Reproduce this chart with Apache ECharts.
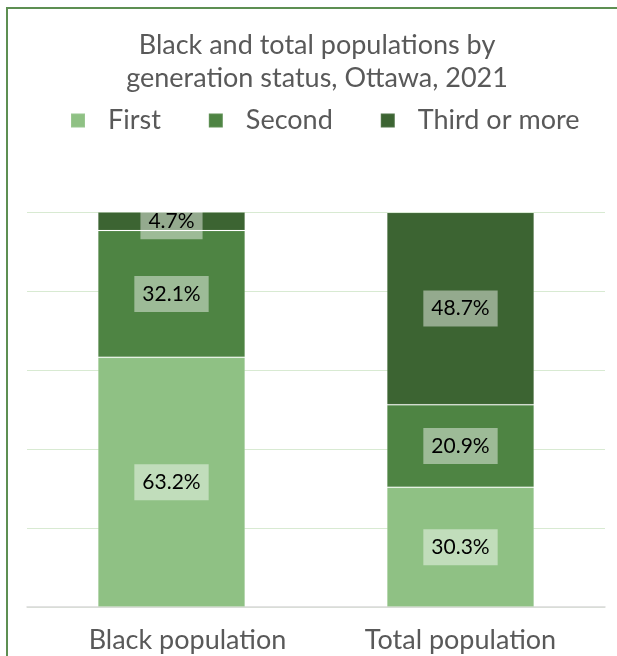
<!DOCTYPE html>
<html>
<head>
<meta charset="utf-8">
<script src="https://cdn.jsdelivr.net/npm/echarts@6/dist/echarts.min.js"></script>
<style>
  html, body { margin: 0; padding: 0; background: #ffffff; overflow: hidden; }
  #chart { width: 617px; height: 656px; }
</style>
</head>
<body>
<div id="chart"></div>
<script>
// Generation status shares (%) for each population group
const categories = ['Black population', 'Total population'];
const firstGen = [63.2, 30.3];
const secondGen = [32.1, 20.9];
const thirdGen = [4.7, 48.7];
const seriesNames = ['First', 'Second', 'Third or more'];
const titleText = 'Black and total populations by\ngeneration status, Ottawa, 2021';

const FONT = 'Lato, "Open Sans", sans-serif';
const colors = ['#8fc184', '#4e8443', '#3c6432'];

const chart = echarts.init(document.getElementById('chart'), null, { renderer: 'canvas' });

function barSeries(name, data, color) {
  return {
    name: name,
    type: 'bar',
    stack: 'gen',
    data: data,
    barWidth: '51%',
    itemStyle: { color: color, borderColor: 'rgba(255,255,255,0.1)', borderWidth: 1 },
    label: {
      show: true,
      position: 'inside',
      formatter: p => p.value.toFixed(1) + '%',
      color: '#000000',
      fontFamily: FONT,
      fontSize: 21,
      lineHeight: 23,
      backgroundColor: 'rgba(255,255,255,0.45)',
      padding: [7, 8, 6, 8]
    }
  };
}

chart.setOption({
  backgroundColor: '#ffffff',
  animation: false,
  color: colors,
  title: {
    text: titleText,
    left: 312,
    textAlign: 'center',
    top: 24,
    textStyle: { color: '#595959', fontFamily: FONT, fontWeight: 'normal', fontSize: 27, lineHeight: 33 }
  },
  legend: {
    top: 102,
    left: 65,
    itemWidth: 14,
    itemHeight: 14,
    itemGap: 47,
    icon: 'rect',
    textStyle: { color: '#595959', fontFamily: FONT, fontSize: 27, padding: [0, 0, 0, 18] },
    data: seriesNames
  },
  grid: { left: 27, right: 12, top: 212, bottom: 49 },
  xAxis: {
    type: 'category',
    data: categories,
    axisTick: { show: false },
    axisLine: { lineStyle: { color: '#d9d9d9', width: 1.5 } },
    axisLabel: {
      interval: 0,
      hideOverlap: false,
      color: '#595959',
      fontFamily: FONT,
      fontSize: 27,
      margin: 20,
      formatter: (v, i) => i === 0 ? '{a|' + v + '}' : v,
      rich: { a: { color: '#595959', fontFamily: FONT, fontSize: 27, padding: [0, 0, 0, 32] } }
    }
  },
  yAxis: {
    type: 'value',
    min: 0,
    max: 100,
    interval: 20,
    axisLabel: { show: false },
    axisLine: { show: false },
    axisTick: { show: false },
    splitLine: { lineStyle: { color: '#d8ead2', width: 1 } }
  },
  graphic: [{
    type: 'polyline',
    shape: { points: [[7, 700], [7, 8], [700, 8]] },
    style: { fill: null, stroke: '#5d8f52', lineWidth: 2 },
    silent: true,
    z: 100
  }],
  series: [
    barSeries(seriesNames[0], firstGen, colors[0]),
    barSeries(seriesNames[1], secondGen, colors[1]),
    barSeries(seriesNames[2], thirdGen, colors[2])
  ]
});
</script>
</body>
</html>
